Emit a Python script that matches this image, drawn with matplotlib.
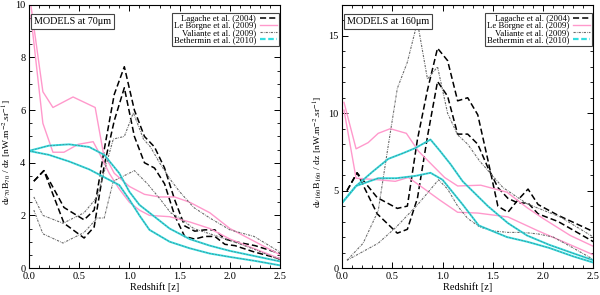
import numpy as np
import matplotlib
matplotlib.use("Agg")
import matplotlib.pyplot as plt
from matplotlib.ticker import MultipleLocator

plt.rcParams['font.family'] = ['Liberation Serif', 'DejaVu Serif']
plt.rcParams['mathtext.fontset'] = 'stix'

# ---------------- 70 micron panel ----------------
lag70_z = [0.05, 0.15, 0.35, 0.55, 0.65, 0.75, 0.85, 0.95, 1.05, 1.15, 1.25, 1.35, 1.45, 1.55, 1.65, 1.75, 1.85, 1.95, 2.05, 2.25, 2.5]
lag70_a = [3.3, 3.7, 2.3, 1.83, 2.2, 4.5, 6.6, 7.65, 6.0, 5.0, 4.6, 3.8, 2.6, 1.6, 1.4, 1.45, 1.45, 1.1, 1.0, 0.85, 0.55]
lag70_b = [3.3, 3.7, 1.7, 1.14, 1.56, 3.9, 5.6, 6.85, 5.0, 4.0, 3.8, 3.2, 2.0, 1.2, 1.1, 1.2, 1.2, 0.9, 0.85, 0.6, 0.35]

lb70a_z = [0.02, 0.14, 0.24, 0.44, 0.66, 0.74, 0.85, 1.0, 1.15, 1.3, 1.45, 1.6, 1.8, 2.0, 2.2, 2.5]
lb70a_v = [10.0, 6.7, 6.1, 6.5, 6.1, 4.4, 3.6, 3.1, 2.8, 2.7, 2.7, 2.5, 2.1, 1.5, 1.1, 0.5]
lb70b_z = [0.02, 0.14, 0.24, 0.35, 0.49, 0.64, 0.71, 0.8, 0.9, 1.0, 1.1, 1.2, 1.4, 1.6, 1.8, 2.0, 2.2, 2.5]
lb70b_v = [9.6, 5.5, 4.4, 4.4, 4.7, 4.8, 4.3, 3.6, 3.0, 2.5, 2.2, 2.0, 1.95, 1.75, 1.5, 1.1, 0.8, 0.35]

val70a_z = [0.05, 0.14, 0.34, 0.55, 0.68, 0.84, 0.95, 1.04, 1.14, 1.21, 1.3, 1.41, 1.5, 1.64, 1.8, 2.0, 2.24, 2.5]
val70a_v = [2.7, 2.0, 1.7, 2.1, 2.7, 4.9, 5.0, 5.9, 4.9, 4.6, 4.0, 3.35, 2.9, 2.3, 1.9, 1.45, 1.2, 0.6]
val70b_z = [0.05, 0.14, 0.34, 0.55, 0.68, 0.75, 0.84, 1.05, 1.18, 1.31, 1.41, 1.5, 1.64, 1.8, 2.0, 2.25, 2.5]
val70b_v = [2.2, 1.3, 0.95, 1.35, 1.9, 1.9, 3.3, 3.7, 3.2, 2.6, 2.1, 1.9, 1.5, 1.3, 1.05, 0.7, 0.3]

bet70_z = [0.0, 0.2, 0.4, 0.6, 0.75, 0.9, 1.0, 1.1, 1.2, 1.4, 1.6, 1.8, 2.0, 2.25, 2.5]
bet70_a = [4.45, 4.65, 4.7, 4.6, 4.3, 3.6, 2.9, 2.4, 2.1, 1.5, 1.1, 0.85, 0.65, 0.45, 0.25]
bet70_b = [4.45, 4.3, 4.05, 3.75, 3.45, 3.15, 2.6, 2.0, 1.45, 1.0, 0.75, 0.55, 0.42, 0.27, 0.1]

# ---------------- 160 micron panel ----------------
lag160_z = [0.05, 0.15, 0.35, 0.55, 0.65, 0.75, 0.85, 0.95, 1.05, 1.15, 1.25, 1.35, 1.45, 1.55, 1.65, 1.75, 1.85, 1.95, 2.15, 2.5]
lag160_a = [5.0, 6.15, 4.55, 3.85, 4.0, 8.3, 11.5, 14.2, 13.4, 10.8, 11.0, 9.9, 7.0, 4.0, 3.6, 4.4, 5.1, 4.1, 3.4, 2.35]
lag160_b = [5.0, 6.15, 3.5, 2.25, 2.5, 4.5, 8.5, 12.05, 11.1, 8.65, 8.65, 8.0, 6.5, 5.2, 4.5, 4.2, 4.2, 3.5, 3.0, 1.7]

lb160a_z = [0.02, 0.14, 0.26, 0.36, 0.48, 0.64, 0.76, 0.89, 1.02, 1.15, 1.38, 1.64, 1.84, 2.0, 2.27, 2.5]
lb160a_v = [10.7, 7.7, 8.1, 8.7, 9.0, 8.7, 7.55, 6.7, 5.85, 5.3, 5.35, 4.9, 3.9, 3.2, 2.1, 1.4]
lb160b_z = [0.02, 0.14, 0.36, 0.53, 0.66, 0.8, 0.97, 1.15, 1.35, 1.65, 1.95, 2.2, 2.5]
lb160b_v = [10.2, 5.8, 5.7, 5.6, 5.85, 5.2, 4.4, 3.6, 3.55, 3.3, 2.4, 1.7, 0.85]

val160a_z = [0.05, 0.21, 0.36, 0.45, 0.55, 0.65, 0.75, 0.85, 0.95, 1.05, 1.15, 1.25, 1.37, 1.6, 1.84, 2.17, 2.5]
val160a_v = [0.5, 1.6, 3.7, 7.5, 11.6, 13.3, 15.9, 12.2, 13.0, 10.0, 8.6, 8.0, 6.9, 5.2, 4.15, 3.3, 2.0]
val160b_z = [0.05, 0.36, 0.54, 0.76, 0.96, 1.05, 1.15, 1.25, 1.37, 1.5, 1.65, 1.8, 1.95, 2.1, 2.27, 2.5]
val160b_v = [0.5, 1.6, 2.65, 4.15, 5.7, 5.1, 4.0, 3.2, 2.65, 2.4, 2.3, 2.3, 2.2, 2.0, 1.4, 0.55]

bet160a_z = [0.0, 0.14, 0.3, 0.46, 0.6, 0.73, 0.88, 0.97, 1.08, 1.2, 1.45, 1.65, 1.84, 2.06, 2.3, 2.5]
bet160a_v = [4.2, 5.3, 6.2, 7.05, 7.4, 7.75, 8.3, 7.6, 6.7, 5.6, 4.0, 2.9, 2.1, 1.5, 0.95, 0.5]
bet160b_z = [0.0, 0.14, 0.36, 0.54, 0.73, 0.88, 1.0, 1.1, 1.2, 1.36, 1.64, 1.84, 2.06, 2.3, 2.5]
bet160b_v = [4.2, 5.3, 5.8, 5.8, 5.95, 6.15, 5.7, 4.9, 4.1, 2.75, 2.0, 1.7, 1.3, 0.75, 0.35]

labels = ["Lagache et al. (2004)", "Le Borgne et al. (2009)",
          "Valiante et al. (2009)", "Bethermin et al. (2010)"]

pink = "#ff99cc"
cyan = "#33dde0"
grey = "#6a6a6a"


def draw_panel(ax, lag, lb, val, bet):
    # each model is drawn as a pair of curves (two bounds)
    ax.plot(lag[0], lag[1], color="k", lw=1.1, dashes=(4, 2), label=labels[0])
    ax.plot(lag[0], lag[2], color="k", lw=1.1, dashes=(4, 2))
    ax.plot(lb[0], lb[1], color=pink, lw=1.0, label=labels[1])
    ax.plot(lb[2], lb[3], color=pink, lw=1.0)
    ax.plot(val[0], val[1], color=grey, lw=0.8, dashes=(2, 1, 0.6, 1), label=labels[2])
    ax.plot(val[2], val[3], color=grey, lw=0.8, dashes=(2, 1, 0.6, 1))
    for bz, bv in [(bet[0], bet[1]), (bet[2], bet[3])]:
        ax.plot(bz, bv, color=cyan, lw=1.4)
        ax.plot(bz, bv, color="#4a7a80", lw=0.45, dashes=(3, 2))
    # proxy entry for legend
    ax.plot([], [], color=cyan, lw=1.6, dashes=(2.5, 1.2), label=labels[3])

    ax.set_xlim(0, 2.5)
    ax.xaxis.set_major_locator(MultipleLocator(0.5))
    ax.xaxis.set_minor_locator(MultipleLocator(0.1))
    ax.xaxis.set_major_formatter(plt.FuncFormatter(lambda v, p: f"{v:.1f}"))
    ax.tick_params(which="both", direction="in", top=True, right=True,
                   labelsize=7.5)
    ax.tick_params(axis="x", pad=3)
    ax.tick_params(axis="y", pad=2.5)
    ax.tick_params(which="major", length=4, width=0.7)
    ax.tick_params(which="minor", length=2, width=0.6)
    for s in ax.spines.values():
        s.set_linewidth(0.8)
    ax.set_xlabel("Redshift [z]", fontsize=7.5, labelpad=0.5)
    leg = ax.legend(loc="upper right", bbox_to_anchor=(1.0, 0.975),
                    fontsize=6.3, markerfirst=False,
                    handlelength=2.0, handletextpad=0.4, labelspacing=-0.12,
                    borderpad=0.2, fancybox=False, framealpha=1,
                    borderaxespad=0.15)
    leg.get_frame().set_edgecolor("#444444")
    leg.get_frame().set_linewidth(0.8)


fig = plt.figure(figsize=(6.0, 2.95), dpi=100)
ax1 = fig.add_axes([0.048, 0.0915, 0.419, 0.892])
ax2 = fig.add_axes([0.570, 0.0915, 0.419, 0.892])

draw_panel(ax1, [lag70_z, lag70_a, lag70_b],
           [lb70a_z, lb70a_v, lb70b_z, lb70b_v],
           [val70a_z, val70a_v, val70b_z, val70b_v],
           [bet70_z, bet70_a, bet70_z, bet70_b])
ax1.set_ylim(0, 10)
ax1.yaxis.set_major_locator(MultipleLocator(2))
ax1.yaxis.set_minor_locator(MultipleLocator(0.5))
ax1.set_ylabel(r"d$\nu_{70}$B$_{70}$ / dz [nW.m$^{-2}$.sr$^{-1}$]", fontsize=6.8)
ax1.yaxis.set_label_coords(-0.06, 0.44)
ax1.text(0.02, 0.955, "MODELS at 70μm", transform=ax1.transAxes,
         fontsize=7.3, va="top", ha="left",
         bbox=dict(boxstyle="square,pad=0.3", fc="white", ec="#444444", lw=0.8))

draw_panel(ax2, [lag160_z, lag160_a, lag160_b],
           [lb160a_z, lb160a_v, lb160b_z, lb160b_v],
           [val160a_z, val160a_v, val160b_z, val160b_v],
           [bet160a_z, bet160a_v, bet160b_z, bet160b_v])
ax2.set_ylim(0, 17)
ax2.yaxis.set_major_locator(MultipleLocator(5))
ax2.yaxis.set_minor_locator(MultipleLocator(1))
ax2.set_ylabel(r"d$\nu_{160}$B$_{160}$ / dz [nW.m$^{-2}$.sr$^{-1}$]", fontsize=6.8)
ax2.yaxis.set_label_coords(-0.068, 0.44)
ax2.text(0.02, 0.955, "MODELS at 160μm", transform=ax2.transAxes,
         fontsize=7.3, va="top", ha="left",
         bbox=dict(boxstyle="square,pad=0.3", fc="white", ec="#444444", lw=0.8))

fig.savefig("out.png", dpi=100)
